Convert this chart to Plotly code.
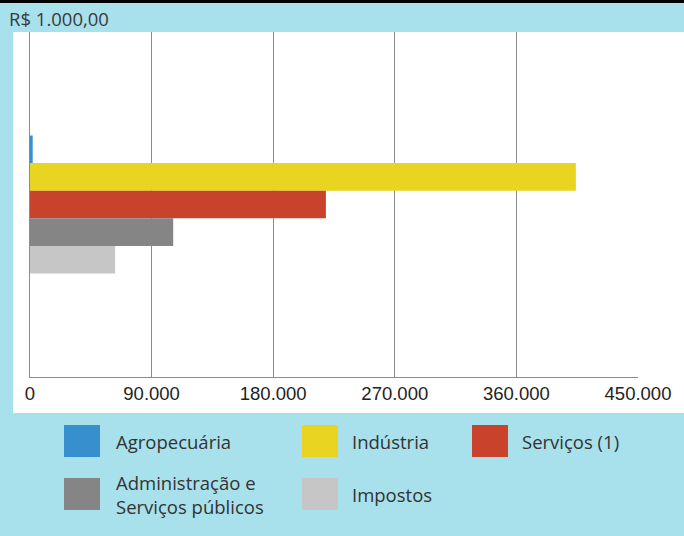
import plotly.graph_objects as go

# ---- data ----
categories = ["Agropecuária", "Indústria", "Serviços (1)", "Administração e<br>Serviços públicos", "Impostos"]
values = [2000, 404000, 219000, 106000, 63000]
colors = ["#3790cd", "#e9d421", "#c9432c", "#858585", "#c6c6c6"]
tick_vals = [0, 90000, 180000, 270000, 360000, 450000]
tick_text = ["0", "90.000", "180.000", "270.000", "360.000", "450.000"]
unit_label = "R$ 1.000,00"

W, H = 684, 536
L, R, T, B = 30, 46, 32, 159
PW, PH = W - L - R, H - T - B


def px(x):
    return (x - L) / PW


def py(y):
    return (H - B - y) / PH


fig = go.Figure()
for name, v, c in zip(categories, values, colors):
    fig.add_trace(go.Bar(
        x=[v], y=[""], orientation="h", name=name,
        marker=dict(color=c, line=dict(width=0)), showlegend=False,
    ))

shapes = [
    # white panel
    dict(type="rect", xref="paper", yref="paper", x0=px(13), x1=px(690), y0=py(413), y1=py(32),
         fillcolor="white", line=dict(width=0), layer="below"),
    # top black band
    dict(type="rect", xref="paper", yref="paper", x0=px(-5), x1=px(690), y0=py(3), y1=py(-5),
         fillcolor="black", line=dict(width=0), layer="above"),
]
annotations = [
    dict(text=unit_label, xref="paper", yref="paper", x=px(7), y=py(18), xanchor="left", yanchor="middle",
         showarrow=False, font=dict(family="Open Sans, sans-serif", size=18.5, color="#3a3a3a")),
]

# custom legend layout
leg_pos = [(64, 441, 114), (302, 441, 350), (472, 441, 520), (64, 494, 114), (302, 494, 350)]
for (sx, cy, tx), name, c in zip(leg_pos, categories, colors):
    shapes.append(dict(type="rect", xref="paper", yref="paper", x0=px(sx), x1=px(sx + 36),
                       y0=py(cy + 16), y1=py(cy - 16), fillcolor=c, line=dict(width=0)))
    annotations.append(dict(text=name, xref="paper", yref="paper", x=px(tx), y=py(cy),
                            xanchor="left", yanchor="middle", align="left", showarrow=False,
                            font=dict(family="Open Sans, sans-serif", size=18.5, color="#333333")))

fig.update_layout(
    width=W, height=H,
    margin=dict(l=L, r=R, t=T, b=B, pad=0),
    paper_bgcolor="#a8e0ec", plot_bgcolor="white",
    barmode="group", bargap=0.6, bargroupgap=0,
    shapes=shapes, annotations=annotations,
    xaxis=dict(range=[0, 450000], tickvals=tick_vals, ticktext=tick_text, showgrid=True,
               gridcolor="#8c8c8c", gridwidth=1, zeroline=False, showline=True, linecolor="#8c8c8c",
               linewidth=1, ticks="", tickfont=dict(family="Liberation Sans, Arial, sans-serif", size=18.5,
                                                     color="#222222"), fixedrange=True),
    yaxis=dict(autorange=False, range=[0.5, -0.5], showticklabels=False, showgrid=False, zeroline=False,
               showline=True, linecolor="#8c8c8c", linewidth=1, fixedrange=True),
    showlegend=False,
)

fig.write_html("out.html")
